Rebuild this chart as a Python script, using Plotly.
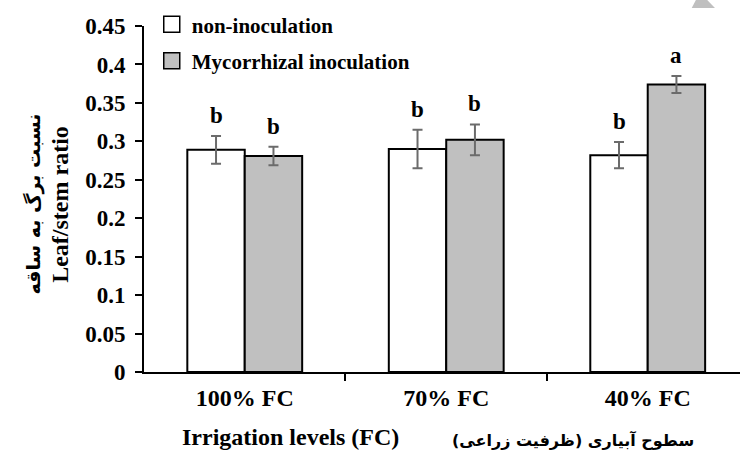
import plotly.graph_objects as go

categories = ["100% FC", "70% FC", "40% FC"]
series_names = ["non-inoculation", "Mycorrhizal inoculation"]
non_inoc = [0.289, 0.290, 0.282]
non_inoc_err = [0.018, 0.025, 0.017]
myc_inoc = [0.281, 0.302, 0.374]
myc_inoc_err = [0.012, 0.020, 0.011]
letters_non = ["b", "b", "b"]
letters_myc = ["b", "b", "a"]
y_ticks = [0, 0.05, 0.1, 0.15, 0.2, 0.25, 0.3, 0.35, 0.4, 0.45]
y_ticktext = ["0", "0.05", "0.1", "0.15", "0.2", "0.25", "0.3", "0.35", "0.4", "0.45"]

SERIF = "Liberation Serif, Times New Roman, serif"
W = 0.285
idx = list(range(len(categories)))
x_non = [i - W / 2 for i in idx]
x_myc = [i + W / 2 for i in idx]
fills = ["white", "#c0c0c0"]

fig = go.Figure()
fig.add_trace(go.Bar(
    x=x_non, y=non_inoc, width=W, name=series_names[0], showlegend=False,
    marker=dict(color=fills[0], line=dict(color="black", width=2)),
    error_y=dict(type="data", array=non_inoc_err, color="#6b6b6b", thickness=2, width=5),
))
fig.add_trace(go.Bar(
    x=x_myc, y=myc_inoc, width=W, name=series_names[1], showlegend=False,
    marker=dict(color=fills[1], line=dict(color="black", width=2)),
    error_y=dict(type="data", array=myc_inoc_err, color="#6b6b6b", thickness=2, width=5),
))
# legend entries (square swatches)
for k, (nm, fc) in enumerate(zip(series_names, fills)):
    fig.add_trace(go.Scatter(
        x=[None], y=[None], mode="markers", name=nm, legendgroup=f"g{k}",
        marker=dict(symbol="square", size=16, color=fc, line=dict(color="black", width=1.5)),
    ))

annotations = []
for xs, vals, errs, labs in [(x_non, non_inoc, non_inoc_err, letters_non),
                             (x_myc, myc_inoc, myc_inoc_err, letters_myc)]:
    for xv, v, e, lab in zip(xs, vals, errs, labs):
        annotations.append(dict(
            x=xv, y=v + e, xref="x", yref="y", text=lab, showarrow=False,
            yanchor="bottom", yshift=6,
            font=dict(family=SERIF, size=23, color="black", weight="bold"),
        ))

annotations += [
    dict(x=0.245, y=-0.188, xref="paper", yref="paper", text="Irrigation levels (FC)",
         showarrow=False, xanchor="center", yanchor="middle",
         font=dict(family=SERIF, size=24, color="black", weight="bold")),
    dict(x=0.72, y=-0.197, xref="paper", yref="paper", text="سطوح آبیاری (ظرفیت زراعی)",
         showarrow=False, xanchor="center", yanchor="middle",
         font=dict(family="DejaVu Sans", size=16, color="black", weight="bold")),
    dict(x=-0.141, y=0.486, xref="paper", yref="paper", text="Leaf/stem ratio",
         showarrow=False, xanchor="center", yanchor="middle", textangle=-90,
         font=dict(family=SERIF, size=24, color="black", weight="bold")),
    dict(x=-0.185, y=0.486, xref="paper", yref="paper", text="نسبت برگ به ساقه",
         showarrow=False, xanchor="center", yanchor="middle", textangle=-90,
         font=dict(family="DejaVu Sans", size=19, color="black", weight="bold")),
]

fig.update_layout(
    width=740, height=450,
    margin=dict(l=144, r=0, t=26, b=78, pad=0),
    plot_bgcolor="white", paper_bgcolor="white",
    barmode="overlay",
    showlegend=True,
    legend=dict(x=0.013, y=1.063, xanchor="left", yanchor="top",
                font=dict(family=SERIF, size=21, color="black", weight="bold"),
                bgcolor="rgba(0,0,0,0)", traceorder="grouped", tracegroupgap=6),
    annotations=annotations,
    shapes=[dict(type="path", xref="paper", yref="paper",
                 path="M 0.919 1.052 L 0.958 1.052 L 0.945 1.075 L 0.926 1.075 Z",
                 fillcolor="#bfbfbf", line=dict(width=0))],
    xaxis=dict(range=[-0.5, 2.458], tickvals=idx, ticktext=categories, ticks="",
               showline=True, linecolor="black", linewidth=2, showgrid=False, zeroline=False,
               ticklabelstandoff=3,
               tickfont=dict(family=SERIF, size=24, color="black", weight="bold"),
               minor=dict(tickvals=[0.5, 1.5], ticks="outside", ticklen=7, tickwidth=2,
                          tickcolor="black", showgrid=False)),
    yaxis=dict(range=[0, 0.45], tickvals=y_ticks, ticktext=y_ticktext, ticks="outside",
               ticklen=7, tickwidth=2, tickcolor="black",
               showline=True, linecolor="black", linewidth=2, showgrid=False, zeroline=False,
               ticklabelstandoff=5,
               tickfont=dict(family=SERIF, size=23, color="black", weight="bold")),
)

fig.write_html("out.html")
